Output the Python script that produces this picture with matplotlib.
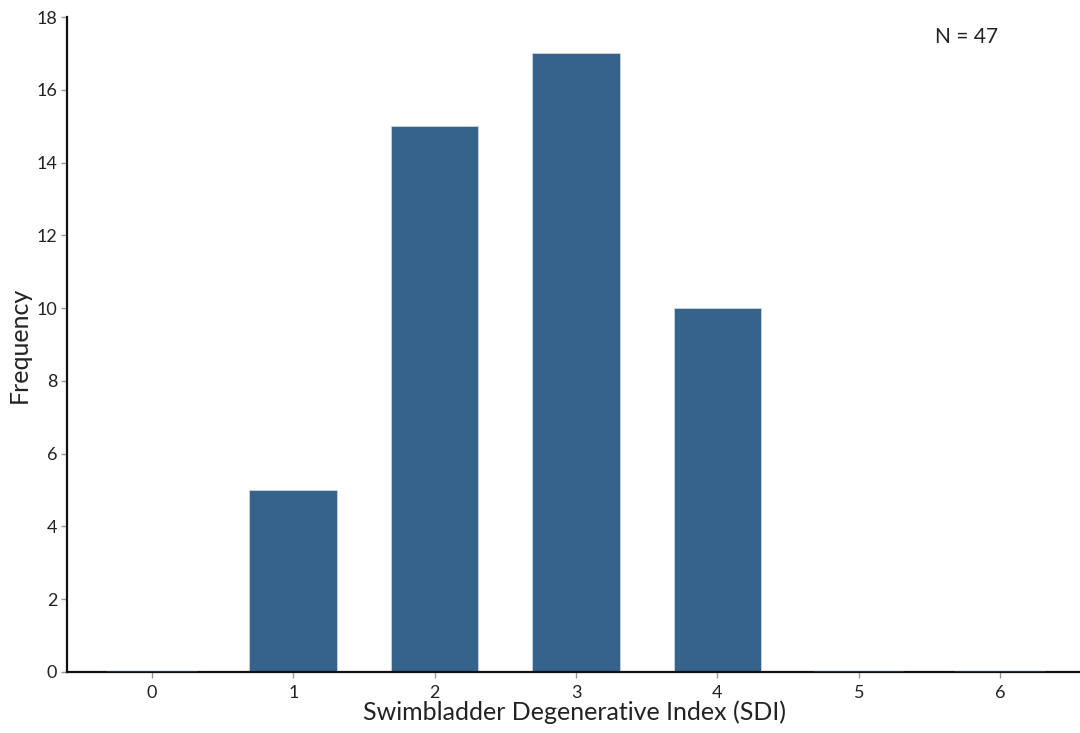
import matplotlib
matplotlib.use("Agg")
import matplotlib.pyplot as plt

categories = [0, 1, 2, 3, 4, 5, 6]
frequency = [0, 5, 15, 17, 10, 0, 0]
yticks = [0, 2, 4, 6, 8, 10, 12, 14, 16, 18]

plt.rcParams['font.family'] = ['Lato', 'DejaVu Sans']

fig = plt.figure(figsize=(10.8, 7.33), dpi=100)
ax = fig.add_axes([67/1080, 61/733, 1 - 67/1080 + 0.002, 655/733])

ax.bar(categories, frequency, width=0.62, color='#366389', edgecolor='#c9d6e3', linewidth=0.6, zorder=2)
# zero-height bars drawn as thin dark lines as in the reference
for c, f in zip(categories, frequency):
    if f == 0:
        ax.plot([c - 0.31, c + 0.31], [0, 0], color='#1f3a52', lw=1.2, zorder=3)

ax.set_xlim(-0.6, 6.58)
ax.set_ylim(0, 18)
ax.set_xticks(categories)
ax.set_yticks(yticks)
ax.tick_params(axis='both', labelsize=13, color='#999999', length=4, width=1, labelcolor='#222222')
ax.tick_params(axis='x', pad=5)
ax.tick_params(axis='y', pad=3)
for s in ['top', 'right']:
    ax.spines[s].set_visible(False)
for s in ['left', 'bottom']:
    ax.spines[s].set_linewidth(1.6)
    ax.spines[s].set_color('#111111')

ax.set_xlabel('Swimbladder Degenerative Index (SDI)', fontsize=18, color='#222222', labelpad=0)
ax.set_ylabel('Frequency', fontsize=18, color='#222222', labelpad=4)
ax.text(0.886, 0.985, 'N = 47', transform=ax.transAxes, fontsize=15, color='#222222', ha='center', va='top')

fig.savefig('out.png', dpi=100)
